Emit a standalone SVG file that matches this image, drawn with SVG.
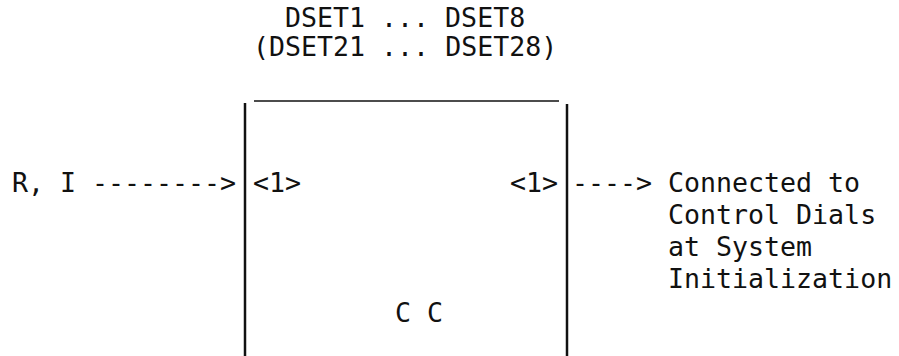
<svg xmlns="http://www.w3.org/2000/svg" width="899" height="356" viewBox="0 0 899 356">
  <style>
    .t { font-family: "DejaVu Sans Mono", "Liberation Mono", monospace; font-size: 26.6px; fill: #111; }
    .edge { stroke: #111; fill: none; }
  </style>
  <rect x="0" y="0" width="899" height="356" fill="#fff"/>
  <g id="labels-top">
    <text class="t" x="285" y="27">DSET1 ... DSET8</text>
    <text class="t" x="253" y="56">(DSET21 ... DSET28)</text>
  </g>
  <g id="node-cc">
    <line class="edge" x1="254" y1="101" x2="559" y2="101" stroke-width="1.5"/>
    <line class="edge" x1="245" y1="103" x2="245" y2="356" stroke-width="2.5"/>
    <line class="edge" x1="567" y1="104" x2="567" y2="356" stroke-width="2.5"/>
    <text class="t" x="253" y="192">&lt;1&gt;</text>
    <text class="t" x="510" y="192">&lt;1&gt;</text>
    <text class="t" x="395" y="322">C C</text>
  </g>
  <g id="node-input">
    <text class="t" x="12" y="192">R, I</text>
  </g>
  <g id="node-output">
    <text class="t" x="668" y="192">Connected to</text>
    <text class="t" x="668" y="224">Control Dials</text>
    <text class="t" x="668" y="256">at System</text>
    <text class="t" x="668" y="288">Initialization</text>
  </g>
  <g id="connectors">
    <text class="t" x="92" y="192">--------&gt;</text>
    <text class="t" x="572" y="192">----&gt;</text>
  </g>
</svg>
